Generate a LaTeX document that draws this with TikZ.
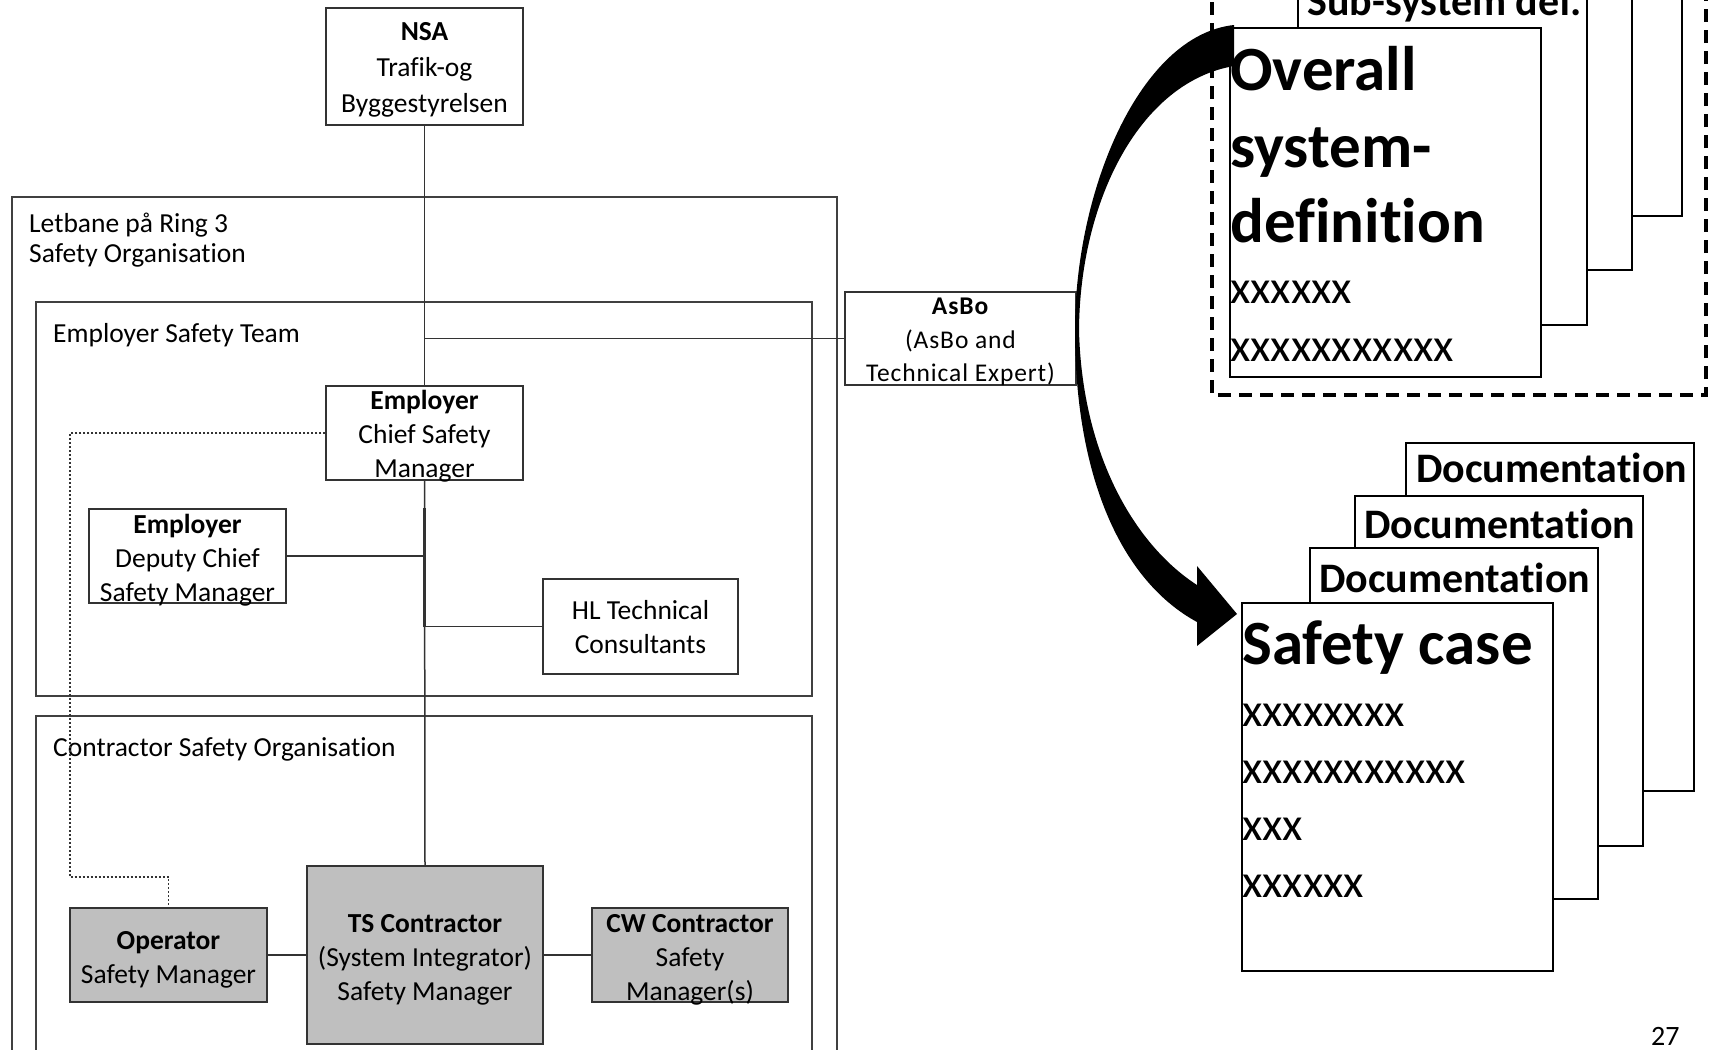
\documentclass[tikz,border=0pt]{standalone}
\usepackage{fontspec}
\setmainfont{Carlito}[Ligatures=NoCommon]
\newfontfamily\asbofont{Carlito}[LetterSpace=3.5,Ligatures=NoCommon]
\begin{document}
\begin{tikzpicture}[x=1pt,y=-1pt,
  frame/.style={draw=black!75,line width=1.5pt},
  box/.style={draw=black!80,line width=1.5pt,inner sep=0pt},
  gbox/.style={box,fill=black!25},
  boxtxt/.style={inner sep=0pt,align=center,font=\fontsize{27.5}{34}\selectfont},
  lbl/.style={anchor=base west,inner sep=0pt,font=\fontsize{27.5}{34}\selectfont},
  conn/.style={draw=black!80,line width=1.5pt},
  dotconn/.style={draw=black!80,line width=1.5pt,dash pattern=on 2pt off 2pt},
  page/.style={draw=black,line width=2.5pt,fill=white},
  ptitle/.style={anchor=base west,inner sep=0pt,font=\fontsize{63}{76}\selectfont\bfseries},
  pline/.style={anchor=base west,inner sep=0pt,font=\fontsize{47}{57}\selectfont},
  pdoc/.style={anchor=base west,inner sep=0pt,font=\fontsize{42}{50}\selectfont\bfseries},
]
\useasboundingbox (0,0) rectangle (1709,1050);
\clip (0,0) rectangle (1709,1050);

% ---------- left organisation chart ----------
\draw[frame] (12,197) rectangle (837,1090);
\draw[frame] (36,302) rectangle (812,696);
\draw[frame] (36,716) rectangle (812,1090);

\node[lbl] (lab1) at (29,232) {Letbane på Ring 3};
\node[lbl] (lab2) at (29,262) {Safety Organisation};
\node[lbl] (lab3) at (53,342) {Employer Safety Team};
\node[lbl] (lab4) at (53,756) {Contractor Safety Organisation};

\node[box,minimum width=197pt,minimum height=117pt] (nsa) at (424.5,66.5) {};
\node[boxtxt,font=\fontsize{27.5}{36}\selectfont] (nsat) at ([yshift=-3.5pt]nsa.center) {\textbf{NSA}\\Trafik-og\\Byggestyrelsen};
\node[box,minimum width=231pt,minimum height=93pt] (asbo) at (960.5,338.5) {};
\node[boxtxt,font=\asbofont\fontsize{25.5}{33.5}\selectfont] (asbot) at ([yshift=-3.5pt]asbo.center) {\textbf{AsBo}\\(AsBo and\\Technical Expert)};
\node[box,minimum width=197pt,minimum height=94pt] (chief) at (424.5,433) {};
\node[boxtxt] (chieft) at ([yshift=-3.5pt]chief.center) {\textbf{Employer}\\Chief Safety\\Manager};
\node[box,minimum width=197pt,minimum height=94pt] (deputy) at (187.5,556) {};
\node[boxtxt] (deputyt) at ([yshift=-4.5pt]deputy.center) {\textbf{Employer}\\Deputy Chief\\Safety Manager};
\node[box,minimum width=195pt,minimum height=95pt] (hl) at (640.5,626.5) {};
\node[boxtxt] (hlt) at ([yshift=-0.5pt]hl.center) {HL Technical\\Consultants};
\node[gbox,minimum width=236pt,minimum height=178pt] (ts) at (425,955) {};
\node[boxtxt] (tst) at ([yshift=-5pt]ts.center) {\textbf{TS Contractor}\\(System Integrator)\\Safety Manager};
\node[gbox,minimum width=197pt,minimum height=94pt] (op) at (168.5,955) {};
\node[boxtxt] (opt) at ([yshift=-5pt]op.center) {\textbf{Operator}\\Safety Manager};
\node[gbox,minimum width=196pt,minimum height=94pt] (cw) at (690,955) {};
\node[boxtxt] (cwt) at ([yshift=-5pt]cw.center) {\textbf{CW Contractor}\\Safety\\Manager(s)};

\draw[conn] (nsa.south) -- (chief.north);
\draw[conn] (chief.south) -- (ts.north);
\draw[conn] (nsa.south |- asbo.west) -- (asbo.west);
\draw[conn] (deputy.east) -- (deputy.east -| chief.south);
\draw[conn] (hl.west) -- (hl.west -| chief.south);
\draw[conn,line width=3pt] (chief.south |- deputy.north) -- (chief.south |- hl.west);
\draw[conn] (op.east) -- (ts.west);
\draw[conn] (ts.east) -- (cw.west);
\coordinate (dotcorner) at (70,877);
\draw[dotconn] (chief.west) -| (dotcorner) -| (op.north);

% ---------- system definition stack ----------
\draw[line width=4pt,dash pattern=on 13pt off 8pt] (1212,-40) rectangle (1706,395);
\draw[page] (1393,-134) rectangle (1682,216);
\draw[page] (1343,-80) rectangle (1632,270);
\draw[page] (1298,-25) rectangle (1587,325);
\node[pdoc] (subsys) at (1307,15) {Sub-system def.};
\draw[page] (1230,28) rectangle (1541,377);
\node[ptitle] (ov1) at (1230,90) {Overall};
\node[ptitle] (ov2) at (1230,167) {system-};
\node[ptitle] (ov3) at (1230,242) {definition};
\node[pline] (ov4) at (1230,303) {xxxxxx};
\node[pline] (ov5) at (1230,361) {xxxxxxxxxxx};

% ---------- safety case stack ----------
\draw[page] (1406,443) rectangle (1694,791);
\node[pdoc] (doc3) at (1416,482) {Documentation};
\draw[page] (1355,496) rectangle (1643,846);
\node[pdoc] (doc2) at (1364,538) {Documentation};
\draw[page] (1310,548) rectangle (1598,899);
\node[pdoc] (doc1) at (1319,592) {Documentation};
\draw[page] (1242,603) rectangle (1553,971);
\node[ptitle] (sc0) at (1242,664) {Safety case};
\node[pline] (sc1) at (1242,726) {xxxxxxxx};
\node[pline] (sc2) at (1242,783) {xxxxxxxxxxx};
\node[pline] (sc3) at (1242,840) {xxx};
\node[pline] (sc4) at (1242,897) {xxxxxx};

% ---------- big curved arrow ----------
\fill[black] (1234,25) .. controls (1140,35) and (1075,190) .. (1075,330)
  .. controls (1075,475) and (1120,580) .. (1197,622)
  -- (1197,646) -- (1237,614) -- (1197,566) -- (1197,585)
  .. controls (1135,545) and (1082,455) .. (1079,330)
  .. controls (1080,200) and (1140,82) .. (1234,66) -- cycle;

\node[anchor=base west,inner sep=0pt,font=\fontsize{28}{34}\selectfont] (pgnum) at (1651,1045) {27};
\end{tikzpicture}
\end{document}
